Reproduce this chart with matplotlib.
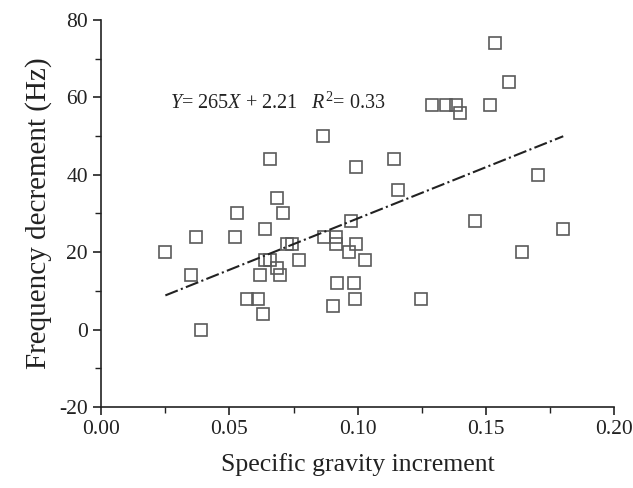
import matplotlib
matplotlib.use("Agg")
import matplotlib.pyplot as plt
from matplotlib.ticker import MultipleLocator, FormatStrFormatter
import numpy as np

plt.rcParams['font.family'] = ['Liberation Serif', 'DejaVu Serif']
plt.rcParams['mathtext.fontset'] = 'custom'
plt.rcParams['mathtext.rm'] = 'Liberation Serif'
plt.rcParams['mathtext.it'] = 'Liberation Serif:italic'
plt.rcParams['axes.unicode_minus'] = False

gravity = [0.025, 0.035, 0.037, 0.039, 0.052, 0.053, 0.057, 0.061, 0.063, 0.062,
           0.064, 0.064, 0.066, 0.0657, 0.0686, 0.0708, 0.0686, 0.0699, 0.0725, 0.0743,
           0.0771, 0.0865, 0.0868, 0.0914, 0.0914, 0.0903, 0.0918, 0.0966, 0.0973, 0.0986,
           0.0988, 0.0992, 0.0993, 0.1027, 0.1142, 0.1157, 0.1249, 0.1289, 0.1344, 0.1383,
           0.1398, 0.1456, 0.1516, 0.1536, 0.1591, 0.1641, 0.1704, 0.1802]
frequency = [20, 14, 24, 0, 24, 30, 8, 8, 4, 14,
             26, 18, 18, 44, 34, 30, 16, 14, 22, 22,
             18, 50, 24, 24, 22, 6, 12, 20, 28, 12,
             8, 22, 42, 18, 44, 36, 8, 58, 58, 58,
             56, 28, 58, 74, 64, 20, 40, 26]

slope = 265
intercept = 2.21
r2 = 0.33

fig = plt.figure(figsize=(6.33, 4.88), dpi=100)
ax = fig.add_axes([0.16, 0.166, 0.81, 0.793])

ax.plot(gravity, frequency, linestyle='none', marker='s', markersize=8,
        markerfacecolor='none', markeredgecolor='#5a5a5a', markeredgewidth=1.2)

xl = np.array([min(gravity), max(gravity)])
ax.plot(xl, slope * xl + intercept, linestyle='-.', color='#222222', linewidth=1.5)

ax.text(0.027, 58.5, r'$Y$= %g$X$ + %.2f   $R^2$= %.2f' % (slope, intercept, r2),
        fontsize=14.5, va='center', ha='left', color='#222222')

ax.set_xlim(0.0, 0.2)
ax.set_ylim(-20, 80)
ax.xaxis.set_major_locator(MultipleLocator(0.05))
ax.xaxis.set_minor_locator(MultipleLocator(0.025))
ax.yaxis.set_major_locator(MultipleLocator(20))
ax.yaxis.set_minor_locator(MultipleLocator(10))
ax.xaxis.set_major_formatter(FormatStrFormatter('%.2f'))

for s in ['top', 'right']:
    ax.spines[s].set_visible(False)
for s in ['left', 'bottom']:
    ax.spines[s].set_linewidth(1.2)
    ax.spines[s].set_color('#222222')

ax.tick_params(which='major', direction='out', length=6, width=1.2, labelsize=15.5, colors='#222222')
ax.tick_params(which='minor', direction='out', length=4, width=1.0, colors='#222222')

ax.set_xlabel('Specific gravity increment', fontsize=18.5, labelpad=10, color='#222222')
ax.set_ylabel('Frequency decrement (Hz)', fontsize=21, labelpad=5, color='#222222')

fig.savefig('out.png', dpi=100)
